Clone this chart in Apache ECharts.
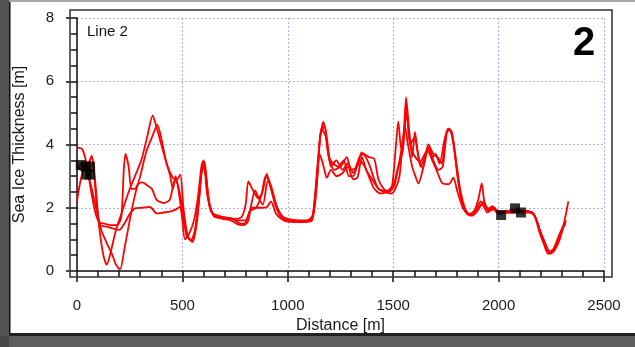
<!DOCTYPE html>
<html>
<head>
<meta charset="utf-8">
<script src="https://cdn.jsdelivr.net/npm/echarts@6/dist/echarts.min.js"></script>
<style>
  html, body { margin: 0; padding: 0; background: #fff; }
  #chart { width: 635px; height: 347px; }
</style>
</head>
<body>
<div id="chart"></div>
<script>
// profile runs along "Line 2", [distance m, thickness m]
var run1 = [[0,3.9],[25,3.85],[45,3.4],[65,2.6],[85,1.9],[105,1.55],[130,1.5],[160,1.45],[190,1.45],[210,1.7],[222,3.2],[230,3.7],[245,3.3],[258,2.6],[275,2.6],[290,2.75],[310,2.8],[338,2.68],[355,2.6],[378,2.25],[410,2.15],[440,2.25],[465,2.9],[480,2.7],[500,2.0],[520,1.1],[540,0.98],[560,1.3],[580,2.3],[595,3.4],[605,3.45],[620,2.5],[640,1.85],[670,1.75],[700,1.7],[740,1.65],[780,1.7],[800,2.1],[813,2.83],[835,2.55],[860,2.3],[880,2.5],[900,3.07],[920,2.6],[950,2.0],[980,1.7],[1020,1.62],[1060,1.6],[1100,1.62],[1120,1.8],[1140,3.3],[1155,4.3],[1169,4.72],[1185,4.2],[1200,3.5],[1220,3.2],[1250,3.3],[1280,3.6],[1300,3.2],[1330,3.3],[1350,3.75],[1370,3.6],[1390,3.3],[1410,2.9],[1430,2.6],[1450,2.55],[1475,2.5],[1495,2.7],[1512,3.9],[1524,4.72],[1535,4.0],[1545,3.75],[1561,5.5],[1575,4.5],[1590,3.6],[1603,4.4],[1620,3.6],[1640,3.25],[1667,4.0],[1690,3.7],[1710,3.6],[1730,3.4],[1750,4.3],[1761,4.5],[1778,4.4],[1800,3.4],[1820,2.5],[1840,2.0],[1860,1.8],[1885,1.9],[1905,2.3],[1920,2.77],[1935,2.1],[1960,1.95],[1980,2.0],[2000,1.85],[2040,1.9],[2080,1.92],[2120,1.9],[2160,1.85],[2180,1.6],[2200,1.2],[2225,0.8],[2245,0.55],[2265,0.65],[2290,1.0],[2310,1.5],[2331,2.2]]
var run2 = [[0,3.3],[20,3.2],[45,3.3],[70,3.6],[88,2.7],[105,1.4],[125,0.5],[141,0.2],[160,0.6],[185,1.3],[215,1.9],[245,2.5],[275,3.0],[305,3.5],[335,4.3],[359,4.92],[375,4.6],[400,4.0],[425,3.4],[441,3.04],[455,2.6],[468,3.0],[485,2.4],[500,1.6],[512,1.0],[530,1.15],[555,1.6],[575,2.4],[590,3.3],[600,3.5],[618,2.4],[645,1.8],[680,1.7],[720,1.68],[760,1.6],[800,1.6],[820,1.9],[845,2.55],[862,2.3],[882,2.1],[905,2.85],[920,2.7],[950,2.0],[985,1.65],[1030,1.6],[1080,1.58],[1115,1.65],[1135,2.6],[1155,4.3],[1175,4.6],[1190,3.8],[1205,3.3],[1230,3.5],[1260,3.2],[1285,3.4],[1310,3.1],[1340,3.6],[1360,3.7],[1385,3.6],[1410,3.55],[1430,2.9],[1455,2.6],[1480,2.5],[1505,2.7],[1530,3.5],[1550,4.3],[1565,5.0],[1580,4.0],[1600,4.2],[1615,3.8],[1630,3.3],[1650,3.6],[1667,3.9],[1685,3.6],[1700,3.7],[1720,3.4],[1745,4.2],[1765,4.5],[1785,4.1],[1805,3.0],[1825,2.2],[1845,1.85],[1865,1.75],[1885,1.9],[1905,2.0],[1930,2.2],[1950,1.9],[1970,2.05],[2000,1.85],[2050,1.85],[2100,1.9],[2150,1.85],[2175,1.7],[2195,1.3],[2220,0.9],[2240,0.6],[2260,0.7],[2285,1.1],[2305,1.4],[2320,1.6]]
var run3 = [[0,3.2],[25,3.4],[50,3.1],[70,2.6],[90,2.0],[115,1.3],[140,0.9],[165,0.55],[185,0.2],[204,0.05],[225,0.7],[250,1.6],[275,2.4],[300,3.0],[330,3.8],[360,4.3],[381,4.62],[400,4.2],[425,3.4],[455,2.95],[475,2.9],[490,3.05],[505,2.0],[525,1.1],[545,0.93],[565,1.5],[585,2.8],[602,3.45],[625,2.2],[650,1.75],[690,1.65],[730,1.6],[760,1.48],[790,1.45],[810,1.55],[830,2.0],[870,2.0],[900,2.02],[920,2.2],[945,1.8],[980,1.6],[1030,1.55],[1080,1.55],[1115,1.6],[1135,2.5],[1160,4.5],[1178,4.3],[1195,3.6],[1215,3.4],[1240,3.3],[1265,3.5],[1290,3.0],[1310,3.0],[1340,3.5],[1365,3.3],[1390,2.9],[1410,2.6],[1440,2.45],[1465,2.48],[1490,2.45],[1510,2.6],[1530,3.0],[1555,4.6],[1570,4.0],[1590,3.3],[1605,3.0],[1620,2.77],[1640,3.2],[1665,3.8],[1685,3.5],[1705,3.2],[1730,2.8],[1750,2.75],[1765,2.75],[1785,2.95],[1805,2.5],[1830,2.0],[1850,1.85],[1875,1.75],[1900,1.9],[1925,2.15],[1945,1.85],[1975,1.95],[2000,1.8],[2040,1.85],[2090,1.85],[2140,1.9],[2170,1.75],[2195,1.2],[2215,0.85],[2235,0.55],[2255,0.6],[2280,0.9],[2300,1.3],[2318,1.5]]
var run4 = [[0,2.2],[15,2.8],[35,3.3],[55,3.4],[70,3.65],[82,3.0],[95,2.0],[110,1.45],[140,1.4],[170,1.35],[200,1.3],[225,1.5],[250,1.8],[275,1.98],[310,2.0],[346,2.03],[378,1.82],[410,1.85],[441,1.88],[470,1.95],[489,2.03],[505,1.6],[525,1.1],[548,0.92],[570,1.6],[588,3.0],[598,3.3],[612,3.0],[630,2.0],[655,1.7],[700,1.68],[740,1.65],[775,1.5],[795,1.5],[820,1.9],[850,2.0],[875,2.4],[895,3.0],[912,2.85],[940,2.1],[975,1.65],[1020,1.6],[1070,1.58],[1110,1.6],[1130,2.4],[1153,3.67],[1170,3.3],[1185,2.95],[1205,3.2],[1230,3.0],[1260,3.1],[1285,3.3],[1310,2.9],[1330,2.95],[1352,3.6],[1372,3.2],[1400,2.9],[1430,2.6],[1460,2.5],[1485,2.6],[1505,2.8],[1520,3.2],[1545,3.8],[1561,5.3],[1575,4.3],[1590,3.8],[1605,3.6],[1627,3.46],[1650,3.7],[1670,3.9],[1690,3.5],[1715,3.2],[1735,3.3],[1755,4.4],[1770,4.45],[1790,3.8],[1810,2.8],[1830,2.1],[1855,1.8],[1875,1.8],[1895,1.95],[1915,2.2],[1940,1.95],[1965,2.0],[1995,1.9],[2030,1.85],[2070,1.95],[2110,1.85],[2160,1.85],[2185,1.5],[2205,1.05],[2230,0.7],[2250,0.6],[2275,0.8],[2300,1.25],[2318,1.55]]
// black squares (drill holes)
var holes = [[18,3.35],[42,3.3],[62,3.3],[45,3.05],[62,3.05],[2012,1.77],[2078,1.98],[2106,1.85]]

var runs = [run1, run2, run3, run4]

var chart = echarts.init(document.getElementById('chart'))

var series = runs.map(function (r) {
  return {
    type: 'line',
    data: r,
    smooth: 0.25,
    showSymbol: false,
    lineStyle: { color: '#ff0000', width: 1.8 },
    z: 3
  }
})
series.push({
  type: 'scatter',
  data: holes,
  symbol: 'rect',
  symbolSize: 10,
  itemStyle: { color: '#000' },
  z: 4
})

var tickFont = { fontFamily: 'Liberation Sans', fontSize: 15, color: '#1a1a1a' }
var nameFont = { fontFamily: 'Liberation Sans', fontSize: 16, color: '#1a1a1a' }
var gridLine = { show: true, lineStyle: { color: '#b0b0ff', type: [2, 2], width: 1 } }
var plain = function (v) { return String(v) }

var option = {
  backgroundColor: '#fff',
  animation: false,
  grid: { left: 77, right: 31, top: 18, bottom: 76 },
  xAxis: {
    type: 'value',
    min: 0,
    max: 2500,
    interval: 500,
    offset: 6,
    name: 'Distance [m]',
    nameLocation: 'middle',
    nameGap: 41,
    nameTextStyle: nameFont,
    axisLine: { lineStyle: { color: '#111', width: 1.5 } },
    axisTick: { length: 11, lineStyle: { color: '#111', width: 1.5 } },
    minorTick: { show: true, splitNumber: 5, length: 6, lineStyle: { color: '#111', width: 1.5 } },
    axisLabel: Object.assign({ margin: 21, formatter: plain }, tickFont),
    splitLine: gridLine
  },
  yAxis: {
    type: 'value',
    min: 0,
    max: 8,
    interval: 2,
    offset: 7,
    name: 'Sea Ice Thickness [m]',
    nameLocation: 'middle',
    nameGap: 42,
    nameTextStyle: nameFont,
    axisLine: { show: true, lineStyle: { color: '#111', width: 1.5 } },
    axisTick: { show: true, length: 11, lineStyle: { color: '#111', width: 1.5 } },
    minorTick: { show: true, splitNumber: 4, length: 6, lineStyle: { color: '#111', width: 1.5 } },
    axisLabel: Object.assign({ margin: 16, formatter: plain }, tickFont),
    splitLine: gridLine
  },
  graphic: [
    // photo edges around the panel
    { type: 'rect', shape: { x: 0, y: 0, width: 9, height: 347 }, style: { fill: '#4f544e' }, z: 10 },
    { type: 'rect', shape: { x: 9, y: 0, width: 1.5, height: 335 }, style: { fill: '#111' }, z: 10 },
    { type: 'rect', shape: { x: 9, y: 0, width: 626, height: 2 }, style: { fill: '#a8a8a8' }, z: 10 },
    { type: 'rect', shape: { x: 9, y: 333, width: 626, height: 3 }, style: { fill: '#222' }, z: 10 },
    { type: 'rect', shape: { x: 9, y: 336, width: 626, height: 11 }, style: { fill: '#5e5e5e' }, z: 10 },
    { type: 'rect', shape: { x: 0, y: 336, width: 9, height: 11 }, style: { fill: '#434843' }, z: 10 },
    // plot frame
    { type: 'rect', shape: { x: 70, y: 10, width: 542, height: 267 }, style: { fill: null, stroke: '#333', lineWidth: 1.5 }, z: 9 },
    { type: 'text', left: 87, top: 24, style: { text: 'Line 2', font: '15px "Liberation Sans"', fill: '#111' }, z: 9 },
    { type: 'text', left: 573, top: 24, style: { text: '2', font: 'bold 40px "Liberation Sans"', fill: '#000' }, z: 9 }
  ],
  series: series
}
chart.setOption(option)
</script>
</body>
</html>
